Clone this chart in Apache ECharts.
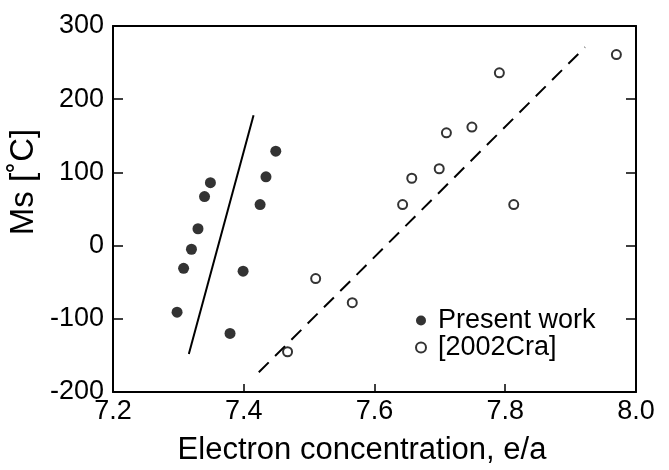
<!DOCTYPE html>
<html>
<head>
<meta charset="utf-8">
<script src="https://cdn.jsdelivr.net/npm/echarts@6/dist/echarts.min.js"></script>
<style>html,body{margin:0;padding:0;background:#fff}#c{width:669px;height:470px}</style>
</head>
<body>
<div id="c"></div>
<script>
var xTicks = [7.2, 7.4, 7.6, 7.8, 8.0];
var yTicks = [-200, -100, 0, 100, 200, 300];
var presentWork = [[7.298,-91],[7.308,-31],[7.320,-5],[7.330,23],[7.340,67],[7.349,86],[7.379,-120],[7.399,-35],[7.425,56],[7.434,94],[7.449,129]];
var cra2002 = [[7.467,-145],[7.510,-45],[7.566,-78],[7.643,56],[7.657,92],[7.699,105],[7.710,154],[7.749,162],[7.791,236],[7.813,56],[7.970,261]];
var presentFit = [[7.316,-148],[7.415,178]];
var craFit = [[7.423,-173],[7.922,271]];
var seriesNames = ['Present work', '[2002Cra]'];
var xName = 'Electron concentration, e/a';
var yName = 'Ms [\u02DAC]';

var FONT = '"Liberation Sans", Arial, sans-serif';
var chart = echarts.init(document.getElementById('c'), null, {renderer: 'canvas'});
var axisLine = {show: true, onZero: false, lineStyle: {color: '#000', width: 2}};
chart.setOption({
  animation: false,
  backgroundColor: '#fff',
  grid: {left: 113, right: 33, top: 26, bottom: 78, containLabel: false},
  xAxis: [{
    type: 'value', min: xTicks[0], max: xTicks[xTicks.length-1], interval: 0.2,
    axisLine: axisLine,
    axisTick: {show: true, inside: true, length: 8, lineStyle: {color: '#000', width: 1.5}},
    axisLabel: {color: '#000', fontFamily: FONT, fontSize: 27, margin: 6,
      formatter: function (v) { return v.toFixed(1); }},
    splitLine: {show: false}
  }, {
    type: 'value', position: 'top', min: xTicks[0], max: xTicks[xTicks.length-1], interval: 0.2,
    axisLine: axisLine, axisTick: {show: false}, axisLabel: {show: false}, splitLine: {show: false}
  }],
  yAxis: [{
    type: 'value', min: yTicks[0], max: yTicks[yTicks.length-1], interval: 100,
    axisLine: axisLine,
    axisTick: {show: true, inside: true, length: 10, lineStyle: {color: '#000', width: 1.5}},
    axisLabel: {color: '#000', fontFamily: FONT, fontSize: 27, margin: 9},
    splitLine: {show: false}
  }, {
    type: 'value', position: 'right', min: yTicks[0], max: yTicks[yTicks.length-1], interval: 100,
    axisLine: axisLine,
    axisTick: {show: true, inside: true, length: 10, lineStyle: {color: '#000', width: 1.5}},
    axisLabel: {show: false}, splitLine: {show: false}
  }],
  legend: {
    left: 410, top: 302, orient: 'vertical', itemGap: 0, itemWidth: 10, itemHeight: 10,
    textStyle: {color: '#000', fontFamily: FONT, fontSize: 27, padding: [0, 0, 0, 7]},
    data: [
      {name: seriesNames[0], icon: 'circle', itemStyle: {color: '#000'}},
      {name: seriesNames[1], icon: 'circle', itemStyle: {color: '#fff', borderColor: '#000', borderWidth: 2}}
    ]
  },
  graphic: [
    {type: 'text', x: 24, y: 182, rotation: Math.PI/2, silent: true,
     style: {text: yName, fill: '#000', font: '33px ' + FONT, textAlign: 'center', textVerticalAlign: 'middle'}},
    {type: 'text', x: 362, y: 450, silent: true,
     style: {text: xName, fill: '#000', font: '31px ' + FONT, textAlign: 'center', textVerticalAlign: 'middle'}}
  ],
  series: [
    {name: seriesNames[0], type: 'scatter', data: presentWork, symbol: 'circle', symbolSize: 11,
     itemStyle: {color: '#000'}, z: 5},
    {name: seriesNames[1], type: 'scatter', data: cra2002, symbol: 'circle', symbolSize: 9,
     itemStyle: {color: '#fff', borderColor: '#000', borderWidth: 2}, z: 5},
    {name: 'fit1', type: 'line', data: presentFit, symbol: 'none', lineStyle: {color: '#000', width: 2}},
    {name: 'fit2', type: 'line', data: craFit, symbol: 'none', lineStyle: {color: '#000', width: 2, type: [14, 9]}}
  ]
});
</script>
</body>
</html>
